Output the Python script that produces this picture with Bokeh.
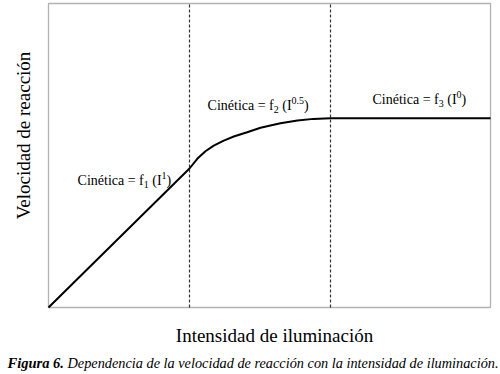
import math
from bokeh.plotting import figure
from bokeh.models import Range1d, Label, BoxAnnotation
from bokeh.embed import file_html
from bokeh.resources import INLINE

# ---- data ----
intensity = [0.0, 1.0, 1.055, 1.113, 1.172, 1.243, 1.314, 1.409, 1.504, 1.574, 1.645, 1.766, 1.879, 2.0, 3.135]
rate = [0.0, 1.0, 1.070, 1.124, 1.165, 1.201, 1.230, 1.261, 1.293, 1.310, 1.325, 1.345, 1.357, 1.362, 1.362]
regime_bounds = [1.0, 2.0]
x_max = 3.135
y_max = 2.187
x_title = "Intensidad de iluminación"
y_title = "Velocidad de reacción"
caption_bold = "Figura 6."
caption_rest = "Dependencia de la velocidad de reacción con la intensidad de iluminación."
NB = "\u00a0"
annotations = [
    (0.206, 0.914, [("Cinética = f", "n"), ("1", "sub"), (NB + "(I", "n"), ("1", "sup"), (")", "n")]),
    (1.128, 1.453, [("Cinética = f", "n"), ("2", "sub"), (NB + "(I", "n"), ("0.5", "sup"), (")", "n")]),
    (2.298, 1.496, [("Cinética = f", "n"), ("3", "sub"), (NB + "(I", "n"), ("0", "sup"), (")", "n")]),
]

FONT = "Liberation Serif"
W = {"C": 667, "i": 278, "n": 500, "é": 444, "t": 278, "c": 444, "a": 444, " ": 250, NB: 250,
     "=": 564, "f": 333, "(": 333, "I": 333, ")": 333, ".": 250}
for d in "0123456789":
    W[d] = 500


def tw(s, size):
    return sum(W.get(ch, 500) for ch in s) * size / 1000.0


# pixel scale: 141 px per x unit, 139 px per y unit; plot box from px (48,3) to (490,307)
PX_X, PX_Y = 141.0, 139.0
p = figure(width=500, height=374, output_backend="svg", toolbar_location=None,
           x_axis_type=None, y_axis_type=None,
           x_range=Range1d(-48 / PX_X, 452 / PX_X), y_range=Range1d(-67 / PX_Y, 307 / PX_Y),
           min_border=0)
p.grid.visible = False
p.outline_line_color = None
p.background_fill_color = "white"
p.border_fill_color = "white"

p.add_layout(BoxAnnotation(left=0, right=x_max, bottom=0, top=y_max, fill_alpha=0,
                           line_color="black", line_width=1.3))

p.segment(x0=regime_bounds, y0=[0] * len(regime_bounds), x1=regime_bounds,
          y1=[y_max] * len(regime_bounds), line_color="#333333", line_width=1.2, line_dash="3 2")

p.line(intensity, rate, line_color="black", line_width=2)

BASE = 14
SMALL = 10
for (axx, ay, segs) in annotations:
    off = 0.0
    for text, kind in segs:
        size = BASE if kind == "n" else SMALL
        dy = 0 if kind == "n" else (-4 if kind == "sub" else 5)
        p.add_layout(Label(x=axx, y=ay, text=text, x_offset=off, y_offset=dy,
                           text_font=FONT, text_font_size=f"{size}px", text_color="black",
                           text_align="left", text_baseline="middle"))
        off += tw(text, size)

p.add_layout(Label(x=(274 - 48) / PX_X, y=(307 - 335) / PX_Y, text=x_title,
                   text_font=FONT, text_font_size="19px",
                   text_align="center", text_baseline="middle", text_color="black"))
p.add_layout(Label(x=(23 - 48) / PX_X, y=(307 - 135) / PX_Y, text=y_title,
                   text_font=FONT, text_font_size="19px",
                   angle=math.pi / 2, text_align="center", text_baseline="middle", text_color="black"))
cap_y = (307 - 362) / PX_Y
p.add_layout(Label(x=(7 - 48) / PX_X, y=cap_y, text=caption_bold,
                   text_font=FONT, text_font_size="14.5px",
                   text_font_style="bold italic", text_align="left", text_baseline="middle",
                   text_color="black"))
p.add_layout(Label(x=(67 - 48) / PX_X, y=cap_y, text=caption_rest,
                   text_font=FONT, text_font_size="14.3px", text_font_style="italic",
                   text_align="left", text_baseline="middle", text_color="black"))

open("out.html", "w").write(file_html(p, INLINE))
